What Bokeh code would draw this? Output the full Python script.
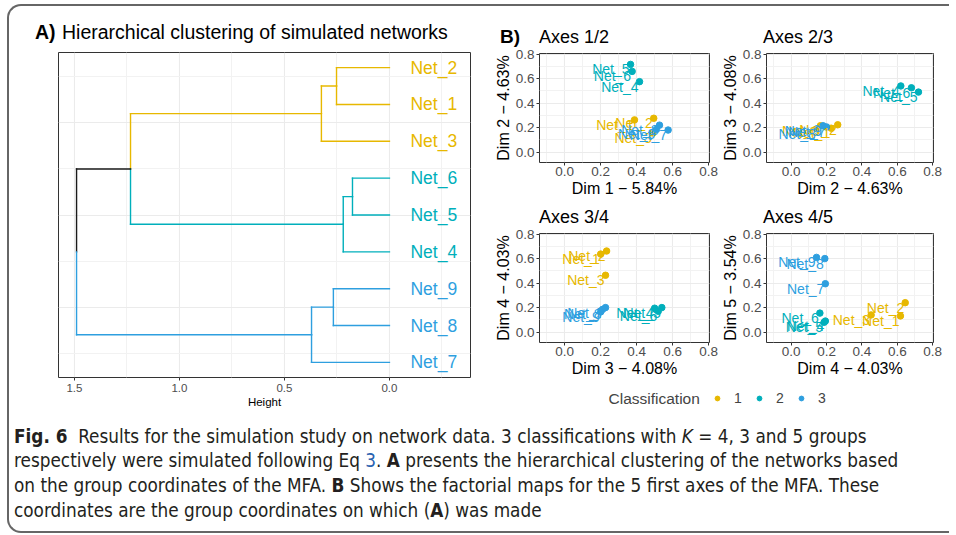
from bokeh.plotting import figure
from bokeh.models import (Range1d, FixedTicker, Label, ColumnDataSource, Legend,
                          LegendItem, Div, PrintfTickFormatter)
from bokeh.layouts import row, column
from bokeh.core.properties import value
from bokeh.embed import file_html
from bokeh.resources import INLINE

FONT = "Liberation Sans"
COLORS = {"1": "#E7B800", "2": "#00AFBB", "3": "#2E9FDF"}

# ---------------- Dendrogram data ----------------
leaf_labels = ["Net_7", "Net_8", "Net_9", "Net_4", "Net_5", "Net_6", "Net_3", "Net_1", "Net_2"]  # bottom -> top
leaf_class = ["3", "3", "3", "2", "2", "2", "1", "1", "1"]
merge_a = ["Net_2", "m1", "Net_6", "m3", "Net_9", "m5", "m2", "m7"]
merge_b = ["Net_1", "Net_3", "Net_5", "Net_4", "Net_8", "Net_7", "m4", "m6"]
merge_h = [0.252, 0.324, 0.176, 0.22, 0.267, 0.371, 1.233, 1.49]
height_ticks = [0.0, 0.5, 1.0, 1.5]

# ---------------- Factorial map data ----------------
nets = ["Net_1", "Net_2", "Net_3", "Net_4", "Net_5", "Net_6", "Net_7", "Net_8", "Net_9"]
net_class = ["1", "1", "1", "2", "2", "2", "3", "3", "3"]
ax12_x = [0.388, 0.495, 0.490, 0.416, 0.366, 0.375, 0.575, 0.527, 0.510]
ax12_y = [0.263, 0.276, 0.155, 0.575, 0.716, 0.659, 0.180, 0.220, 0.185]
ax23_x = [0.226, 0.263, 0.165, 0.620, 0.720, 0.680, 0.200, 0.145, 0.180]
ax23_y = [0.195, 0.223, 0.215, 0.540, 0.490, 0.525, 0.205, 0.190, 0.215]
ax34_x = [0.200, 0.233, 0.227, 0.500, 0.540, 0.520, 0.227, 0.210, 0.200]
ax34_y = [0.637, 0.662, 0.464, 0.195, 0.200, 0.170, 0.200, 0.185, 0.165]
ax45_x = [0.618, 0.645, 0.452, 0.193, 0.186, 0.162, 0.193, 0.190, 0.143]
ax45_y = [0.132, 0.240, 0.140, 0.090, 0.080, 0.155, 0.395, 0.600, 0.610]
panel_titles = ["Axes 1/2", "Axes 2/3", "Axes 3/4", "Axes 4/5"]
x_titles = ["Dim 1 \u2212 5.84%", "Dim 2 \u2212 4.63%", "Dim 3 \u2212 4.08%", "Dim 4 \u2212 4.03%"]
y_titles = ["Dim 2 \u2212 4.63%", "Dim 3 \u2212 4.08%", "Dim 4 \u2212 4.03%", "Dim 5 \u2212 3.54%"]
map_ticks = [0.0, 0.2, 0.4, 0.6, 0.8]
map_minor = [-0.1, 0.1, 0.3, 0.5, 0.7]
classes = ["1", "2", "3"]


def style_axis(ax, tick_size, label_size, standoff=1, label_standoff=0):
    ax.axis_line_color = None
    ax.major_tick_line_color = "#333333"
    ax.major_tick_out = 3
    ax.major_tick_in = 0
    ax.minor_tick_line_color = None
    ax.major_label_standoff = standoff
    ax.major_label_text_font = FONT
    ax.major_label_text_font_size = tick_size
    ax.major_label_text_color = "#4D4D4D"
    ax.axis_label_text_font = FONT
    ax.axis_label_text_font_size = label_size
    ax.axis_label_text_font_style = "normal"
    ax.axis_label_text_color = "black"
    ax.axis_label_standoff = label_standoff
    ax.formatter = PrintfTickFormatter(format="%.1f")


def style_grid(p, xt, xm, yt, ym):
    p.xgrid.ticker = FixedTicker(ticks=xt, minor_ticks=xm)
    p.ygrid.ticker = FixedTicker(ticks=yt, minor_ticks=ym)
    for g in (p.xgrid, p.ygrid):
        g.grid_line_color = "#EBEBEB"
        g.grid_line_width = 1.1
        g.minor_grid_line_color = "#F2F2F2"
        g.minor_grid_line_width = 1


def title_div(width, height, parts):
    spans = []
    for left, top, size, bold, txt in parts:
        spans.append(
            "<span style=\"position:absolute;left:%dpx;top:%.1fpx;font-size:%spx;line-height:1;"
            "white-space:nowrap;%s\">%s</span>" % (left, top, size, "font-weight:bold;" if bold else "", txt))
    html = ("<div style=\"position:relative;width:%dpx;height:%dpx;font-family:'Liberation Sans';"
            "color:black;\">%s</div>" % (width, height, "".join(spans)))
    return Div(text=html, width=width, height=height, margin=0)


# ---------------- Dendrogram figure ----------------
ypos = {n: i + 1 for i, n in enumerate(leaf_labels)}
hpos = {n: 0.0 for n in leaf_labels}
cls = dict(zip(leaf_labels, leaf_class))
seg = dict(x0=[], y0=[], x1=[], y1=[], color=[])
for i, (a, b, h) in enumerate(zip(merge_a, merge_b, merge_h)):
    name = "m%d" % (i + 1)
    ny = (ypos[a] + ypos[b]) / 2
    for c in (a, b):
        col = COLORS[cls[c]] if cls[c] else "#1a1a1a"
        seg["x0"].append(hpos[c]); seg["y0"].append(ypos[c])
        seg["x1"].append(h); seg["y1"].append(ypos[c]); seg["color"].append(col)
        seg["x0"].append(h); seg["y0"].append(ypos[c])
        seg["x1"].append(h); seg["y1"].append(ny); seg["color"].append(col)
    ypos[name] = ny
    hpos[name] = h
    cls[name] = cls[a] if cls[a] == cls[b] else None

pd = figure(width=481, height=372, output_backend="svg", toolbar_location=None,
            x_range=Range1d(1.576, -0.386), y_range=Range1d(0.59, 9.41),
            min_border_left=49, min_border_right=20, min_border_top=6, min_border_bottom=41,
            outline_line_color="#333333", outline_line_width=1)
pd.segment(x0="x0", y0="y0", x1="x1", y1="y1", color="color", line_width=1.4,
           line_cap="square", source=ColumnDataSource(seg))
pd.text(x=[0.0] * len(leaf_labels), y=[ypos[n] for n in leaf_labels], text=leaf_labels,
        text_color=[COLORS[c] for c in leaf_class], text_font=value(FONT),
        text_font_size="17.5px", text_align="left", text_baseline="middle", x_offset=21)
pd.xaxis.ticker = FixedTicker(ticks=height_ticks)
pd.xaxis.axis_label = "Height"
style_axis(pd.xaxis[0], "11.5px", "11.5px", standoff=3, label_standoff=1)
pd.yaxis.visible = False
style_grid(pd, height_ticks, [-0.25, 0.25, 0.75, 1.25], [2.5, 5.0, 7.5], [1.25, 3.75, 6.25, 8.75])

dA = title_div(481, 40, [(26, 17, 19.5, True, "A)"),
                         (53, 17, 19.5, False, "Hierarchical clustering of simulated networks")])
left = column(dA, pd)


# ---------------- Factorial maps ----------------
def make_map(xs, ys, xt, yt, width, height, bl, br, bt, bb):
    p = figure(width=width, height=height, output_backend="svg", toolbar_location=None,
               x_range=Range1d(-0.14, 0.805), y_range=Range1d(-0.085, 0.805),
               min_border_left=bl, min_border_right=br, min_border_top=bt, min_border_bottom=bb,
               outline_line_color="#333333", outline_line_width=1)
    src = ColumnDataSource(dict(x=xs, y=ys, lab=nets, col=[COLORS[c] for c in net_class]))
    p.scatter("x", "y", source=src, color="col", size=6.5)
    p.text("x", "y", text="lab", source=src, text_color="col", text_font=value(FONT),
           text_font_size="14px", text_align="right", text_baseline="middle",
           x_offset=-1, y_offset=5)
    p.xaxis.ticker = FixedTicker(ticks=map_ticks)
    p.yaxis.ticker = FixedTicker(ticks=map_ticks)
    p.xaxis.axis_label = xt
    p.yaxis.axis_label = yt
    style_axis(p.xaxis[0], "13.5px", "16px", standoff=1, label_standoff=1)
    style_axis(p.yaxis[0], "13.5px", "16px", standoff=2, label_standoff=1)
    style_grid(p, map_ticks, map_minor, map_ticks, map_minor)
    return p


p1 = make_map(ax12_x, ax12_y, x_titles[0], y_titles[0], 228, 155, 49, 9, 6, 40)
p2 = make_map(ax23_x, ax23_y, x_titles[1], y_titles[1], 231, 155, 44, 16, 6, 40)
p3 = make_map(ax34_x, ax34_y, x_titles[2], y_titles[2], 228, 155, 49, 9, 6, 40)
p4 = make_map(ax45_x, ax45_y, x_titles[3], y_titles[3], 231, 155, 44, 16, 6, 40)

d1 = title_div(228, 41, [(10, 21, 19, True, "B)"), (49, 21.6, 18, False, panel_titles[0])])
d2 = title_div(231, 41, [(45, 21.6, 18, False, panel_titles[1])])
d3 = title_div(228, 25, [(49, 5.6, 18, False, panel_titles[2])])
d4 = title_div(231, 25, [(45, 5.6, 18, False, panel_titles[3])])

# ---------------- Legend strip ----------------
lg = figure(width=459, height=36, output_backend="svg", toolbar_location=None,
            x_range=Range1d(0, 1), y_range=Range1d(0, 1), min_border=0,
            x_axis_location=None, y_axis_location=None, outline_line_color=None)
lg.xgrid.visible = False
lg.ygrid.visible = False
items = []
for c in classes:
    r = lg.scatter(x=[float("nan")], y=[float("nan")], color=COLORS[c], size=7.5)
    items.append(LegendItem(label=c, renderers=[r]))
legend = Legend(items=items, orientation="horizontal", location=(221, 10),
                label_text_font=FONT, label_text_font_size="14px", label_standoff=11,
                label_width=8, label_height=20,
                spacing=11, glyph_width=12, glyph_height=12, padding=0, margin=0,
                border_line_color=None, background_fill_alpha=0)
lg.add_layout(legend)
lg.add_layout(Label(x=118, y=20, x_units="screen", y_units="screen", text="Classification",
                    text_font=FONT, text_font_size="15.5px", text_baseline="middle"))

# ---------------- Caption ----------------
caption_html = (
    "<div style=\"font-family:'DejaVu Sans Condensed','DejaVu Sans',sans-serif;"
    "font-stretch:condensed;font-size:18.8px;line-height:24.7px;color:#231f20;"
    "padding:6.5px 0 0 5px;white-space:nowrap;\">"
    "<b>Fig. 6</b>&nbsp; Results for the simulation study on network data. 3 classifications with "
    "<i>K</i> = 4, 3 and 5 groups<br>"
    "respectively were simulated following Eq <span style='color:#2a62b0'>3</span>. "
    "<b>A</b> presents the hierarchical clustering of the networks based<br>"
    "on the group coordinates of the MFA. <b>B</b> Shows the factorial maps for the 5 first axes of the MFA. These<br>"
    "coordinates are the group coordinates on which (<b>A</b>) was made</div>"
)
cap = Div(text=caption_html, width=940, height=113, margin=0)

right = column(row(column(d1, p1), column(d2, p2)), row(column(d3, p3), column(d4, p4)), lg)
root = column(row(left, right), cap,
              styles={"margin-left": "7px", "margin-top": "4px",
                      "border-left": "2px solid #666666", "border-top": "2px solid #666666",
                      "border-bottom": "2px solid #666666", "border-right": "0px none",
                      "border-top-left-radius": "14px", "border-bottom-left-radius": "14px",
                      "border-top-right-radius": "0px", "border-bottom-right-radius": "0px"})

open("out.html", "w").write(file_html(root, INLINE))
